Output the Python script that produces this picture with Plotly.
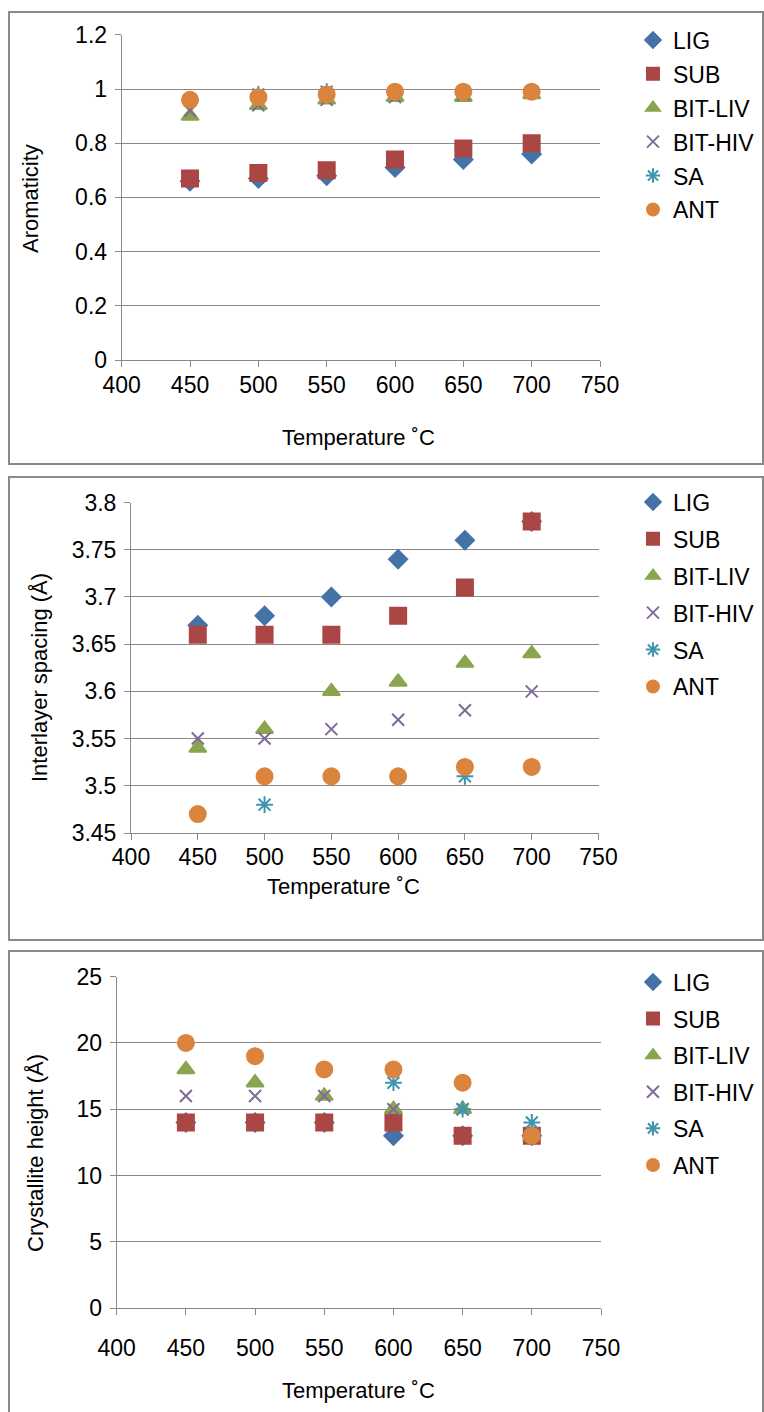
import plotly.graph_objects as go

W, H = 764, 1412

temperatures = [450, 500, 550, 600, 650, 700]
series_names = ["LIG", "SUB", "BIT-LIV", "BIT-HIV", "SA", "ANT"]

aromaticity_LIG = [0.66, 0.67, 0.68, 0.71, 0.74, 0.76]
aromaticity_SUB = [0.67, 0.69, 0.70, 0.74, 0.78, 0.80]
aromaticity_BITLIV = [0.90, 0.94, 0.96, 0.97, 0.97, 0.98]
aromaticity_BITHIV = [0.92, 0.94, 0.96, 0.97, 0.98, 0.99]
aromaticity_SA = [0.96, 0.98, 0.99, 0.99, 0.99, 0.99]
aromaticity_ANT = [0.96, 0.97, 0.98, 0.99, 0.99, 0.99]

spacing_LIG = [3.67, 3.68, 3.70, 3.74, 3.76, 3.78]
spacing_SUB = [3.66, 3.66, 3.66, 3.68, 3.71, 3.78]
spacing_BITLIV = [3.54, 3.56, 3.60, 3.61, 3.63, 3.64]
spacing_BITHIV = [3.55, 3.55, 3.56, 3.57, 3.58, 3.60]
spacing_SA = [3.47, 3.48, 3.51, 3.51, 3.51, 3.52]
spacing_ANT = [3.47, 3.51, 3.51, 3.51, 3.52, 3.52]

height_LIG = [14, 14, 14, 13, 13, 13]
height_SUB = [14, 14, 14, 14, 13, 13]
height_BITLIV = [18, 17, 16, 15, 15, 13]
height_BITHIV = [16, 16, 16, 15, 15, 13]
height_SA = [20, 19, 18, 17, 15, 14]
height_ANT = [20, 19, 18, 18, 17, 13]

x_ticks = [400, 450, 500, 550, 600, 650, 700, 750]
aromaticity_ticks = [0, 0.2, 0.4, 0.6, 0.8, 1, 1.2]
spacing_ticks = [3.45, 3.5, 3.55, 3.6, 3.65, 3.7, 3.75, 3.8]
height_ticks = [0, 5, 10, 15, 20, 25]

colors = ["#4572A7", "#AA4643", "#89A54E", "#80699B", "#3D96AE", "#DB843D"]
symbols = ["diamond", "square", "triangle-up", "x-thin-open", "asterisk-open", "circle"]
sizes = [14, 16, 15, 12, 14, 16]

FONT = "Liberation Sans, Arial, sans-serif"
GRAY = "#8a8a8a"
TICK_SIZE = 23
LEGEND_SIZE = 23
TITLE_SIZE = 22


def px2x(px):
    return px / W


def px2y(py):
    return 1 - py / H


panels = [
    dict(data=[aromaticity_LIG, aromaticity_SUB, aromaticity_BITLIV, aromaticity_BITHIV, aromaticity_SA, aromaticity_ANT],
         yticks=aromaticity_ticks, yrange=[0, 1.2], ytitle="Aromaticity",
         xdom=(121.7, 600), ydom=(34.8, 360), standoff=-2,
         legend_top=18.5, gap=1, xtitle_pos=(358, 437), ytitle_pos=(30, 199),
         box=(9, 12, 763, 464)),
    dict(data=[spacing_LIG, spacing_SUB, spacing_BITLIV, spacing_BITHIV, spacing_SA, spacing_ANT],
         yticks=spacing_ticks, yrange=[3.45, 3.8], ytitle="Interlayer spacing (Å)",
         xdom=(131, 598.5), ydom=(502.5, 833), standoff=-3,
         legend_top=480.5, gap=4, xtitle_pos=(343, 886), ytitle_pos=(39, 678),
         box=(9, 477, 763, 940)),
    dict(data=[height_LIG, height_SUB, height_BITLIV, height_BITHIV, height_SA, height_ANT],
         yticks=height_ticks, yrange=[0, 25], ytitle="Crystallite height (Å)",
         xdom=(116.7, 601), ydom=(976.7, 1308), standoff=13,
         legend_top=960.5, gap=3.7, xtitle_pos=(358, 1390), ytitle_pos=(35, 1153),
         box=(9, 951, 763, 1418)),
]

fig = go.Figure()
layout = dict(
    width=W, height=H,
    margin=dict(l=0, r=0, t=0, b=0, autoexpand=False),
    paper_bgcolor="white", plot_bgcolor="white",
    font=dict(family=FONT, size=22, color="black"),
    showlegend=True,
)
annotations = []
shapes = []

for i, p in enumerate(panels):
    k = "" if i == 0 else str(i + 1)
    xa, ya = "x" + k, "y" + k
    leg = "legend" + k
    for j, name in enumerate(series_names):
        fig.add_trace(go.Scatter(
            x=temperatures, y=p["data"][j], mode="markers", name=name,
            xaxis=xa, yaxis=ya, legend=leg, legendgroup=f"p{i}_{name}",
            marker=dict(symbol=symbols[j], size=sizes[j], color=colors[j],
                        line=dict(width=2, color=colors[j])),
            cliponaxis=False,
        ))
    layout["xaxis" + k] = dict(
        domain=[px2x(p["xdom"][0]), px2x(p["xdom"][1])], anchor=ya,
        range=[400, 750], tickmode="array", tickvals=x_ticks,
        ticks="outside", ticklen=6, tickcolor=GRAY, showgrid=False,
        showline=True, linecolor=GRAY, linewidth=1, zeroline=False,
        automargin=False,
        ticklabelstandoff=p["standoff"], tickfont=dict(size=TICK_SIZE),
    )
    layout["yaxis" + k] = dict(
        domain=[px2y(p["ydom"][1]), px2y(p["ydom"][0])], anchor=xa,
        range=p["yrange"], tickmode="array", tickvals=p["yticks"],
        ticktext=[f"{v:g}" for v in p["yticks"]],
        ticks="outside", ticklen=6, tickcolor=GRAY, showgrid=True,
        gridcolor=GRAY, gridwidth=1, showline=True, linecolor=GRAY,
        linewidth=1, zeroline=False, automargin=False,
        ticklabelstandoff=3, tickfont=dict(size=TICK_SIZE),
    )
    layout[leg] = dict(
        x=px2x(633), y=px2y(p["legend_top"]), xanchor="left", yanchor="top",
        bgcolor="rgba(0,0,0,0)", borderwidth=0, itemsizing="constant",
        tracegroupgap=p["gap"], font=dict(size=LEGEND_SIZE, family=FONT),
    )
    annotations.append(dict(
        text="Temperature ˚C", xref="paper", yref="paper",
        x=px2x(p["xtitle_pos"][0]), y=px2y(p["xtitle_pos"][1]),
        xanchor="center", yanchor="middle", showarrow=False,
        font=dict(size=TITLE_SIZE, family=FONT),
    ))
    annotations.append(dict(
        text=p["ytitle"], xref="paper", yref="paper",
        x=px2x(p["ytitle_pos"][0]), y=px2y(p["ytitle_pos"][1]),
        xanchor="center", yanchor="middle", showarrow=False, textangle=-90,
        font=dict(size=TITLE_SIZE, family=FONT),
    ))
    bx0, by0, bx1, by1 = p["box"]
    shapes.append(dict(
        type="rect", xref="paper", yref="paper",
        x0=px2x(bx0), x1=px2x(bx1), y0=px2y(by1), y1=px2y(by0),
        line=dict(color=GRAY, width=2), fillcolor="rgba(0,0,0,0)", layer="below",
    ))

layout["annotations"] = annotations
layout["shapes"] = shapes
fig.update_layout(**layout)
fig.write_html(
    "out.html",
    config={"displayModeBar": False},
    post_script="document.body.style.margin='0';document.body.style.overflow='hidden';",
)
